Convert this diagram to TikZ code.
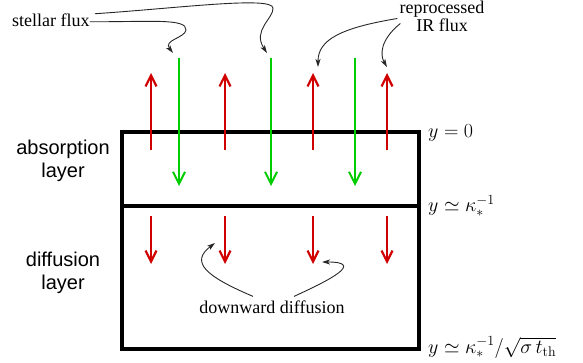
\RequirePackage{fix-cm}
\documentclass[tikz,border=0pt]{standalone}
\usepackage{fontspec}
\newfontfamily\labelrm{Liberation Serif}
\newfontfamily\layersf{Liberation Sans}
\usetikzlibrary{arrows.meta}
\definecolor{irred}{RGB}{208,0,0}
\definecolor{stargreen}{RGB}{0,205,0}

\begin{document}
\begin{tikzpicture}[x=1pt,y=-1pt,
    irflux/.style={draw=irred, line width=2.2pt, -{Straight Barb[length=11pt,width=11pt]}},
    starflux/.style={draw=stargreen, line width=2pt, -{Straight Barb[length=12pt,width=12pt]}},
    pointer/.style={draw=black!85, line width=0.9pt, -{Stealth[length=8pt,width=5pt,inset=2pt]}},
    textlabel/.style={font=\labelrm\fontsize{18}{16}\selectfont, inner sep=0pt, align=center},
    layerlabel/.style={font=\layersf\fontsize{20}{23}\selectfont, inner sep=0pt, align=center},
    depthlabel/.style={font=\fontsize{20}{24}\selectfont, inner sep=0pt, anchor=base west}]
  \useasboundingbox (0,0) rectangle (583,363);

  % layers
  \draw[line width=3.5pt] (122,132) rectangle (419,349);
  \draw[line width=3.5pt] (122,206) -- (419,206);

  % fluxes
  \foreach \x in {151,225,313,387} {
    \draw[irflux] (\x,150) -- (\x,73);
    \draw[irflux] (\x,216) -- (\x,264);
  }
  \foreach \x in {179,271,355}
    \draw[starflux] (\x,58) -- (\x,186);

  % tips that the labels point at
  \coordinate (sf1) at (173,53);
  \coordinate (sf2) at (267,53);
  \coordinate (ir1) at (318,67);
  \coordinate (ir2) at (387,67);
  \coordinate (dd1) at (215,243);
  \coordinate (dd2) at (322,262);

  % labels
  \node[textlabel, anchor=base west] (stellar) at (12,27) {stellar flux};
  \node[textlabel] (irlab) at (442,16.5) {reprocessed\\IR flux};
  \node[textlabel] (downlab) at (272,307) {downward diffusion};
  \node[layerlabel] (abslayer) at (63,161) {absorption\\layer};
  \node[layerlabel] (difflayer) at (63,273) {diffusion\\layer};
  \node[depthlabel] (top) at (428,138) {$y=0$};
  \node[depthlabel] (mid) at (428,212) {$y\simeq\kappa_*^{-1}$};
  \node[depthlabel] (bot) at (428,353) {$y\simeq\kappa_*^{-1}/\sqrt{\sigma\,t_{\rm th}}$};

  % pointers
  \draw[pointer] ([yshift=-1pt]stellar.east) .. controls (150,22) and (187,18) .. (186,30)
    .. controls (185,38) and (163,40) .. (sf1);
  \draw[pointer] ([xshift=5pt,yshift=7pt]stellar.east) .. controls (180,8) and (272,-4) .. (273,8)
    .. controls (274,18) and (252,30) .. (sf2);
  \draw[pointer] ([xshift=-2pt,yshift=-2pt]irlab.west) .. controls (340,28) and (318,40) .. (ir1);
  \draw[pointer] ([xshift=1pt,yshift=-7pt]irlab.west) .. controls (380,40) and (380,55) .. (ir2);
  \draw[pointer] ([xshift=-19pt,yshift=4pt]downlab.north) .. controls (205,276) and (190,262) .. (dd1);
  \draw[pointer] ([xshift=22pt,yshift=4pt]downlab.north) .. controls (330,280) and (365,262) .. (dd2);
\end{tikzpicture}
\end{document}
